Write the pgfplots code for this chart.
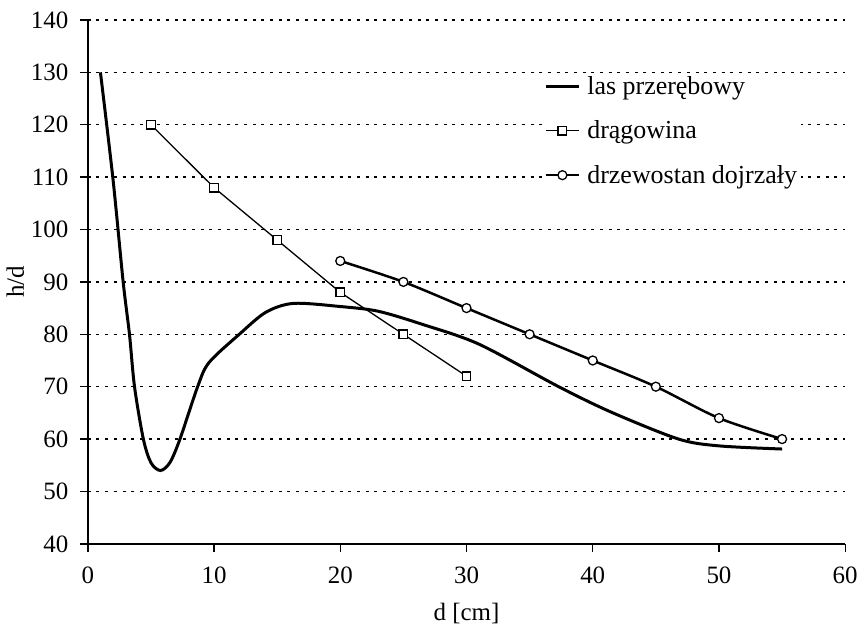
\documentclass[border=0pt]{standalone}
\usepackage{fontspec}
\setmainfont{Liberation Serif}
\usepackage{pgfplots}
\pgfplotsset{compat=1.18}

\begin{document}
\begin{tikzpicture}
\begin{axis}[
    scale only axis,
    width=759pt,
    height=525pt,
    xmin=0, xmax=60,
    ymin=40, ymax=140,
    xtick={0,10,...,60},
    ytick={40,50,...,140},
    axis x line*=bottom,
    axis y line*=left,
    axis line style={line width=1.4pt},
    tick align=outside,
    major tick length=8pt,
    tick style={line width=1.4pt, black},
    ymajorgrids,
    grid style={line width=1.3pt, dash pattern=on 3pt off 5.7pt, black},
    /pgf/number format/assume math mode=true,
    ticklabel style={font=\fontsize{25}{29}\selectfont},
    xticklabel style={yshift=-12pt},
    yticklabel style={xshift=-8pt},
    label style={font=\fontsize{25}{29}\selectfont},
    xlabel={d [cm]},
    ylabel={h/d},
    xlabel style={yshift=-12pt},
    legend style={at={(rel axis cs:0.6,0.9)}, anchor=north west,
        draw=none, fill=white, font=\fontsize{26}{30}\selectfont,
        row sep=21pt, cells={anchor=west}, inner sep=2pt},
    legend image code/.code={
        \draw[#1] (0pt,0pt) -- (33pt,0pt);
        \draw[#1, only marks] plot coordinates {(16.5pt,0pt)};
        \path (38pt,0pt);
    },
]

% las przerebowy
\addplot[black, line width=3pt, smooth, no marks] coordinates {
(1,130) (2,109.5) (2.8,90) (3.3,80) (3.7,70) (4.4,60) (5.0,55.5)
(5.75,54) (6.5,55.5) (7.3,60) (8.7,70) (9.6,74.6) (12,80) (14.1,84.2)
(16.3,85.9) (20,85.3) (23,84.4) (26.5,81.9) (31,78.1) (37.3,70)
(41.5,65.1) (46.8,60) (50,58.7) (55,58.1)
};
\addlegendentry{las przerębowy}

% dragowina
\addplot[black, line width=1.3pt, mark=square*,
    mark options={fill=white, line width=1.3pt}, mark size=4.3pt] coordinates {
(5,120) (10,108) (15,98) (20,88) (25,80) (30,72)
};
\addlegendentry{drągowina}

% drzewostan dojrzaly
\addplot[black, line width=2.5pt, smooth, mark=*,
    mark options={fill=white, line width=1.3pt}, mark size=4.5pt] coordinates {
(20,94) (25,90) (30,85) (35,80) (40,75) (45,70) (50,64) (55,60)
};
\addlegendentry{drzewostan dojrzały}

\end{axis}
\path (current axis.south west) ++(-88pt,-82pt);
\path (current axis.north east) ++(14pt,20pt);
\end{tikzpicture}
\end{document}
